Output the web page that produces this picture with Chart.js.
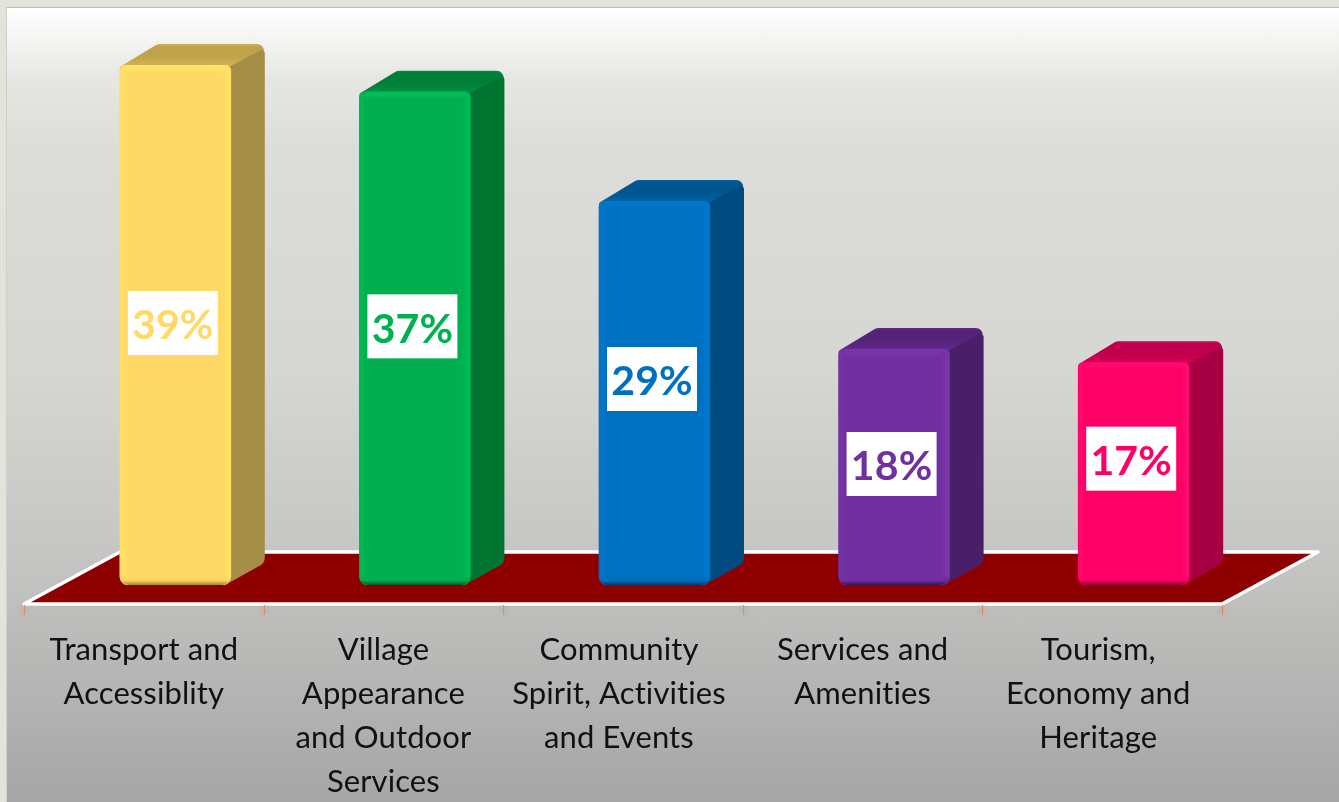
<!DOCTYPE html>
<html>
<head>
<meta charset="utf-8">
<title>Chart</title>
<script src="https://cdn.jsdelivr.net/npm/chart.js@4/dist/chart.umd.min.js"></script>
<style>
    html, body { margin: 0; padding: 0; width: 1339px; height: 802px; overflow: hidden; background: #e3e3dc; }
    #panel {
        position: absolute; left: 6px; top: 7px; width: 1333px; height: 795px;
        border-top: 1px solid #bdbdb5; border-left: 1px solid #d0d0c8; box-sizing: border-box;
        background: linear-gradient(180deg, #ffffff 0%, #e6e6e3 9%, #dcdcd8 18%, #d6d6d2 45%, #c6c6c4 68%, #b8b8b7 82%, #a6a6a6 100%);
    }
    canvas { position: absolute; left: 0; top: 0; filter: blur(0.45px); }
</style>
</head>
<body>
<div id="panel"></div>
<canvas id="chart" width="1339" height="802"></canvas>
<script>
// Data
const categories = [
    ['Transport and', 'Accessiblity'],
    ['Village', 'Appearance', 'and Outdoor', 'Services'],
    ['Community', 'Spirit, Activities', 'and Events'],
    ['Services and', 'Amenities'],
    ['Tourism,', 'Economy and', 'Heritage']
];
const values = [39, 37, 28.8, 17.7, 16.7];

// Colours of the bars
const frontColors = ['#FFD966', '#00B050', '#0070C0', '#7030A0', '#FF0066'];
const lightColors = ['#FFE266', '#00BC56', '#0078CC', '#7834AA', '#FF0A6E'];
const edgeColors = ['#A8872F', '#005525', '#003A64', '#3A1654', '#820034'];
const sideColors = ['#A58E45', '#00752F', '#004A80', '#4A1F6A', '#A60042'];
const topColors = ['#BFA34A', '#007F38', '#00568F', '#55247A', '#C0004C'];
const topFrontColors = ['#D2B253', '#008F40', '#0062A6', '#60288A', '#D60055'];

// Labels were moved by hand on the original, so they sit above the middle of the bar
const labelLift = [2, 12, 14, 3, 15];
// The wrapped labels of these categories sit a little left of the middle
const labelTail = ['', '', ' ', '', ' '];

const DEPTH_X = 34, DEPTH_Y = 21;      // bar depth
const FLOOR_X = 96, FLOOR_Y = 52;      // floor depth
const FLOOR_DROP = 19;                 // front edge of the floor below the bar base
const SHIFT = 31.5;                    // bars stand further back than the axis

// polygon with rounded corners, each point is [x, y, radius]
function roundPoly(ctx, pts) {
    const n = pts.length;
    const mid = (a, b) => [(a[0] + b[0]) / 2, (a[1] + b[1]) / 2];
    const start = mid(pts[n - 1], pts[0]);
    ctx.beginPath();
    ctx.moveTo(start[0], start[1]);
    pts.forEach((p, i) => {
        const next = pts[(i + 1) % n];
        ctx.arcTo(p[0], p[1], next[0], next[1], p[2]);
    });
    ctx.closePath();
}

const floorPlugin = {
    id: 'floor',
    beforeDraw(chart) {
        // letter spacing switches off the ligatures of the font
        chart.ctx.letterSpacing = '0.1px';
    },
    beforeDatasetsDraw(chart) {
        const { ctx, scales: { x, y } } = chart;
        const base = y.getPixelForValue(0) + FLOOR_DROP;
        const left = x.left - SHIFT, right = x.right - SHIFT;
        ctx.save();
        ctx.beginPath();
        ctx.moveTo(left, base);
        ctx.lineTo(left + FLOOR_X, base - FLOOR_Y);
        ctx.lineTo(right + FLOOR_X, base - FLOOR_Y);
        ctx.lineTo(right, base);
        ctx.closePath();
        ctx.fillStyle = '#8E0000';
        ctx.fill();
        ctx.strokeStyle = '#ffffff';
        ctx.lineWidth = 3.5;
        ctx.lineJoin = 'round';
        ctx.stroke();

        // tick marks at the edges of the categories
        const step = (x.right - x.left) / categories.length;
        ctx.strokeStyle = '#EE8B45';
        ctx.lineWidth = 1;
        ctx.shadowColor = 'rgba(0,0,0,0.35)';
        ctx.shadowBlur = 6;
        for (let i = 0; i <= categories.length; i++) {
            const px = Math.round(left + i * step) + 0.5;
            ctx.beginPath();
            ctx.moveTo(px, base + 1);
            ctx.lineTo(px, base + 11);
            ctx.stroke();
        }
        ctx.restore();
    }
};

const sidesPlugin = {
    id: 'sides',
    beforeDatasetsDraw(chart) {
        const { ctx } = chart;
        chart.getDatasetMeta(0).data.forEach((bar, i) => {
            const l = bar.x - bar.width / 2, r = bar.x + bar.width / 2;
            const t = bar.y, b = bar.base - 1;
            const backT = t - DEPTH_Y, backR = r + DEPTH_X;
            ctx.save();

            // top face
            roundPoly(ctx, [[l, t + 2, 3], [l + DEPTH_X + 4, backT, 6], [backR, backT, 7], [backR - 3, t + 4, 1], [l, t + 4, 1]]);
            let g = ctx.createLinearGradient(0, backT, 0, t);
            g.addColorStop(0, topFrontColors[i]);
            g.addColorStop(0.12, topColors[i]);
            g.addColorStop(0.6, topColors[i]);
            g.addColorStop(1, topFrontColors[i]);
            ctx.fillStyle = g;
            ctx.fill();

            // right face
            roundPoly(ctx, [[r - 2, t + 2, 1], [backR, backT + 4, 3], [backR, b - DEPTH_Y, 9], [r - 4, b, 1]]);
            ctx.fillStyle = sideColors[i];
            ctx.fill();
            ctx.restore();
        });
    }
};

const bevelPlugin = {
    id: 'bevel',
    afterDatasetsDraw(chart) {
        const { ctx } = chart;
        chart.getDatasetMeta(0).data.forEach((bar, i) => {
            const l = bar.x - bar.width / 2, r = bar.x + bar.width / 2;
            const t = bar.y, b = bar.base;
            ctx.save();
            ctx.beginPath();
            ctx.roundRect(l, t, r - l, b - t, [6, 6, 9, 9]);
            ctx.clip();

            let g = ctx.createLinearGradient(0, t, 0, t + 8);
            g.addColorStop(0, lightColors[i]);
            g.addColorStop(0.5, lightColors[i]);
            g.addColorStop(1, frontColors[i]);
            ctx.fillStyle = g;
            ctx.fillRect(l, t, r - l, 8);

            g = ctx.createLinearGradient(l, 0, l + 6, 0);
            g.addColorStop(0, frontColors[i]);
            g.addColorStop(0.4, lightColors[i]);
            g.addColorStop(1, frontColors[i]);
            ctx.fillStyle = g;
            ctx.fillRect(l, t, 6, b - t);

            g = ctx.createLinearGradient(r - 8, 0, r, 0);
            g.addColorStop(0, frontColors[i]);
            g.addColorStop(0.5, lightColors[i]);
            g.addColorStop(1, lightColors[i]);
            ctx.fillStyle = g;
            ctx.fillRect(r - 8, t + 3, 8, b - t - 3);

            g = ctx.createLinearGradient(0, b - 8, 0, b);
            g.addColorStop(0, frontColors[i]);
            g.addColorStop(0.4, frontColors[i]);
            g.addColorStop(1, edgeColors[i]);
            ctx.fillStyle = g;
            ctx.fillRect(l, b - 8, r - l, 8);
            ctx.restore();
        });
    }
};

const valueLabelPlugin = {
    id: 'valueLabels',
    afterDraw(chart) {
        const { ctx } = chart;
        chart.getDatasetMeta(0).data.forEach((bar, i) => {
            const cx = bar.x - 2.5, cy = (bar.y + bar.base) / 2 - labelLift[i];
            ctx.save();
            ctx.fillStyle = '#ffffff';
            ctx.fillRect(cx - 45, cy - 32, 90, 64);
            ctx.font = 'bold 41px Lato';
            ctx.textAlign = 'center';
            ctx.textBaseline = 'middle';
            ctx.fillStyle = frontColors[i];
            ctx.fillText(Math.round(values[i]) + '%', cx, cy + 3);
            ctx.restore();
        });
    }
};

new Chart(document.getElementById('chart'), {
    type: 'bar',
    data: {
        labels: categories,
        datasets: [{
            data: values,
            backgroundColor: frontColors,
            barThickness: 111,
            borderRadius: { topLeft: 6, topRight: 6, bottomLeft: 9, bottomRight: 9 },
            borderSkipped: false
        }]
    },
    plugins: [floorPlugin, sidesPlugin, bevelPlugin, valueLabelPlugin],
    options: {
        responsive: false,
        animation: false,
        layout: { padding: { left: 55.5, right: 85.5, top: 65, bottom: 0 } },
        plugins: { legend: { display: false }, tooltip: { enabled: false } },
        scales: {
            x: {
                grid: { display: false },
                border: { display: false },
                afterFit(scale) { scale.height = 217; },
                ticks: {
                    autoSkip: false,
                    maxRotation: 0,
                    minRotation: 0,
                    labelOffset: -SHIFT,
                    padding: 35,
                    color: '#111111',
                    font: { family: 'Lato', size: 31, lineHeight: 1.42 },
                    callback(value, index) {
                        return categories[index].map(line => line + labelTail[index]);
                    }
                }
            },
            y: {
                display: false,
                min: 0,
                max: 39
            }
        }
    }
});
</script>
</body>
</html>
